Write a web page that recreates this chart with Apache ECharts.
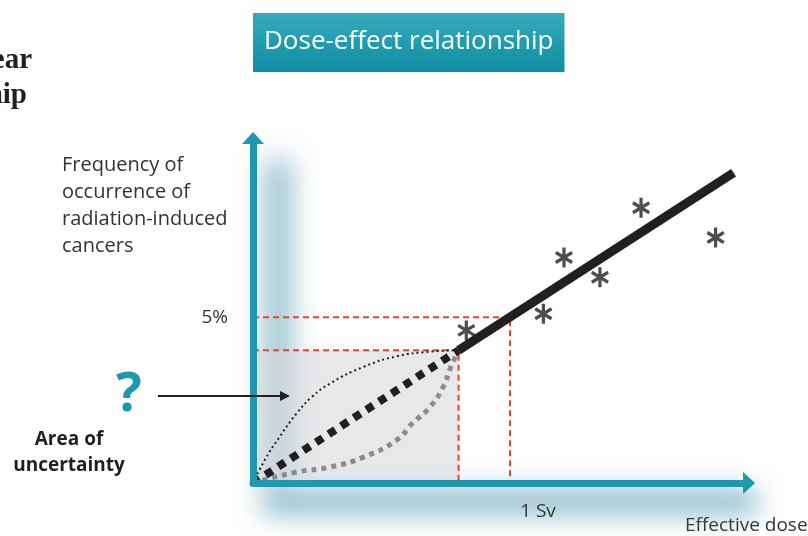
<!DOCTYPE html>
<html>
<head>
<meta charset="utf-8">
<title>Dose-effect relationship</title>
<script src="https://cdn.jsdelivr.net/npm/echarts@6/dist/echarts.min.js"></script>
<style>
  html, body { margin: 0; padding: 0; background: #fff; }
  #main { width: 808px; height: 536px; }
</style>
</head>
<body>
<div id="main"></div>
<script>
// ---- data (dose in Sv, frequency in %) ----
var doseTicks = [1];
var freqTicks = [5];
var linearFit = [[0.8, 4], [1.87, 9.35]];
var extrapolation = [[0, 0], [0.8, 4]];
var supraLinear = [[0, 0], [0.05, 0.75], [0.1, 1.35], [0.17, 2.1], [0.23, 2.6], [0.3, 3.0], [0.43, 3.5], [0.56, 3.82], [0.69, 3.96], [0.8, 4.0]];
var subLinear = [[0, 0], [0.17, 0.33], [0.3, 0.48], [0.43, 0.78], [0.56, 1.3], [0.62, 1.8], [0.69, 2.3], [0.74, 2.9], [0.77, 3.5], [0.8, 4.0]];
var observed = [[0.83, 4.6], [1.13, 5.1], [1.21, 6.8], [1.35, 6.2], [1.51, 8.3], [1.8, 7.4]];
var guideLow = [[0, 4], [0.8, 4], [0.8, 0]];
var guideHigh = [[0, 5], [1, 5], [1, 0]];
var uncertainArea = [[0, 0], [0.8, 4]];

var FONT = 'Open Sans';
var TEAL = '#1e98ae';
var INK = '#231f20';
var GLOW = 'rgba(40,125,155,0.55)';

// asterisk symbol (three crossed bars)
var ASTERISK = 'path://M0.83 0 L1.17 0 L1.17 2 L0.83 2 Z ' +
  'M1.781 0.353 L1.951 0.647 L0.219 1.647 L0.049 1.353 Z ' +
  'M0.049 0.647 L0.219 0.353 L1.951 1.353 L1.781 1.647 Z';

var chart = echarts.init(document.getElementById('main'));

// soft glow: shape drawn off screen, only its blurred shadow lands next to the axis
function glow(x, y, w, h, blur) {
  return {
    type: 'rect', z: 1, silent: true,
    shape: { x: x - 3000, y: y, width: w, height: h },
    style: { fill: '#000', shadowColor: GLOW, shadowBlur: blur, shadowOffsetX: 3000 }
  };
}

var option = {
  animation: false,
  title: {
    text: 'Dose-effect relationship',
    left: 253,
    top: 13,
    padding: [12, 11, 13, 11],
    backgroundColor: new echarts.graphic.LinearGradient(0, 0, 0, 1, [
      { offset: 0, color: '#34abbd' },
      { offset: 1, color: '#0f8ea2' }
    ]),
    textStyle: { color: '#fff', fontFamily: FONT, fontWeight: 'normal', fontSize: 26, lineHeight: 34 }
  },
  grid: { left: 253, top: 138, width: 496, height: 345 },
  xAxis: {
    type: 'value', min: 0, max: 1.93, z: 5,
    splitLine: { show: false },
    axisTick: { show: false },
    axisLine: {
      show: true, onZero: false,
      symbol: ['none', 'triangle'], symbolSize: [22, 12],
      lineStyle: { color: TEAL, width: 7 }
    },
    axisLabel: {
      customValues: doseTicks,
      formatter: '{value} Sv',
      margin: 19, padding: [0, 0, 0, 56],
      fontFamily: FONT, fontSize: 19, color: '#333'
    }
  },
  yAxis: {
    type: 'value', min: 0, max: 10.4, z: 5,
    splitLine: { show: false },
    axisTick: { show: false },
    axisLine: {
      show: true, onZero: false,
      symbol: ['none', 'triangle'], symbolSize: [22, 12],
      lineStyle: { color: TEAL, width: 7 }
    },
    axisLabel: {
      customValues: freqTicks,
      formatter: '{value}%',
      margin: 25,
      fontFamily: FONT, fontSize: 19, color: '#333'
    }
  },
  graphic: [
    // glow along the axes
    glow(266, 160, 24, 323, 28),
    glow(262, 490, 495, 24, 26),
    // cut-off heading at top-left
    { type: 'text', style: { text: 'Linear', x: 32, y: 61, textAlign: 'right', textVerticalAlign: 'middle',
      font: 'bold 29px "Liberation Serif"', fill: INK } },
    { type: 'text', style: { text: 'relationship', x: 27, y: 96, textAlign: 'right', textVerticalAlign: 'middle',
      font: 'bold 29px "Liberation Serif"', fill: INK } },
    // y axis name
    { type: 'text', style: { text: 'Frequency of\noccurrence of\nradiation-induced\ncancers', x: 62, y: 152,
      textAlign: 'left', textVerticalAlign: 'top', lineHeight: 27,
      font: '20px "' + FONT + '"', fill: '#333' } },
    // x axis name
    { type: 'text', style: { text: 'Effective dose', x: 685, y: 526, textAlign: 'left', textVerticalAlign: 'middle',
      font: '19px "' + FONT + '"', fill: '#333' } },
    // question mark and arrow
    { type: 'text', z: 10, style: { text: '?', x: 129, y: 396, textAlign: 'center', textVerticalAlign: 'middle',
      font: 'bold 54px "' + FONT + '"', fill: '#1a9ab0' } },
    { type: 'line', z: 10, shape: { x1: 158, y1: 396, x2: 282, y2: 396 }, style: { stroke: INK, lineWidth: 2 } },
    { type: 'polygon', z: 10, shape: { points: [[280, 391], [290, 396], [280, 401]] }, style: { fill: INK } },
    { type: 'text', style: { text: 'Area of', x: 69, y: 440, textAlign: 'center', textVerticalAlign: 'middle',
      font: 'bold 19px "' + FONT + '"', fill: INK } },
    { type: 'text', style: { text: 'uncertainty', x: 69, y: 466, textAlign: 'center', textVerticalAlign: 'middle',
      font: 'bold 19px "' + FONT + '"', fill: INK } }
  ],
  series: [
    {
      name: 'guide low', type: 'line', data: guideLow, symbol: 'none', z: 2,
      lineStyle: { color: '#ef4123', width: 2, type: [6, 4] },
      markArea: {
        silent: true,
        itemStyle: { color: 'rgba(215,217,220,0.6)' },
        data: [[{ coord: uncertainArea[0] }, { coord: uncertainArea[1] }]]
      }
    },
    {
      name: 'guide high', type: 'line', data: guideHigh, symbol: 'none', z: 2,
      lineStyle: { color: '#ef4123', width: 2, type: [6, 4] }
    },
    {
      name: 'supra-linear', type: 'line', data: supraLinear, symbol: 'none', smooth: 0.5, z: 3,
      lineStyle: { color: INK, width: 2, type: [2, 3] }
    },
    {
      name: 'sub-linear', type: 'line', data: subLinear, symbol: 'none', smooth: 0.5, z: 3,
      lineStyle: { color: '#8c8c8e', width: 5, type: [5, 5] }
    },
    {
      name: 'extrapolation', type: 'line', data: extrapolation, symbol: 'none', z: 4,
      lineStyle: { color: INK, width: 8, type: [8, 7] }
    },
    {
      name: 'linear', type: 'line', data: linearFit, symbol: 'none', z: 4,
      lineStyle: { color: INK, width: 9 }
    },
    {
      name: 'observed', type: 'scatter', data: observed, z: 4,
      symbol: ASTERISK, symbolSize: [18, 20],
      itemStyle: { color: INK }
    }
  ]
};

chart.setOption(option);
</script>
</body>
</html>
